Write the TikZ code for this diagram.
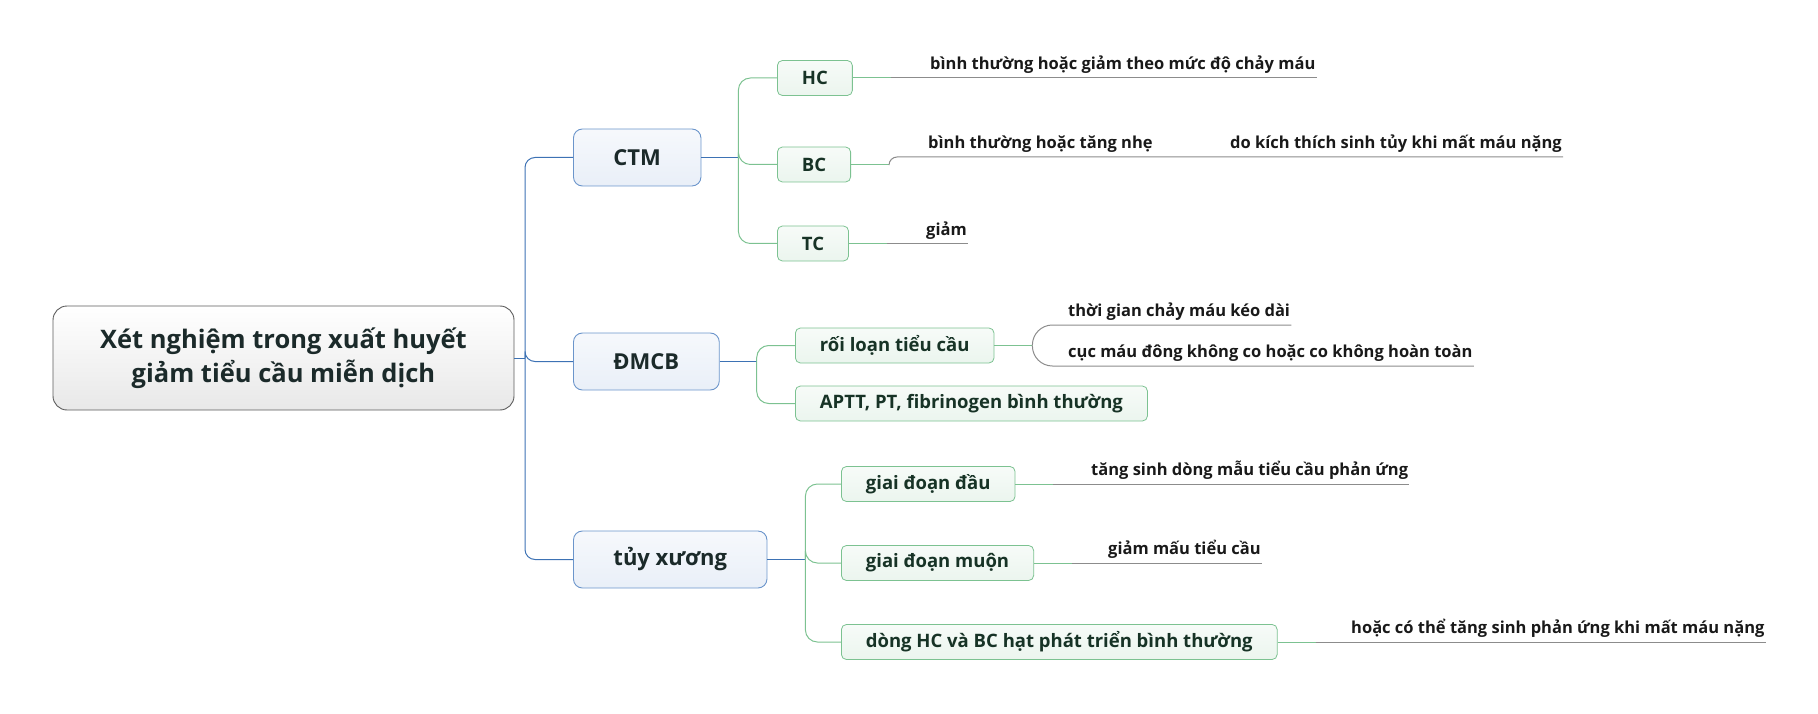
\documentclass[tikz,border=0pt]{standalone}
\usepackage{fontspec}
\setmainfont{Open Sans}
\usepackage{tikz}
\usetikzlibrary{positioning,calc}
\definecolor{bline}{HTML}{3D72B4}
\definecolor{bfill}{HTML}{E9EFF8}
\definecolor{bedge}{HTML}{6B95CB}
\definecolor{gline}{HTML}{7CC291}
\definecolor{gfill}{HTML}{EBF5EE}
\definecolor{rootedge}{HTML}{5C5C5C}
\definecolor{uline}{HTML}{8C8C8C}
\definecolor{ink}{HTML}{1B2A2A}
\definecolor{gink}{HTML}{173326}
\tikzset{
  rootbox/.style={draw=rootedge,rounded corners=14pt,line width=0.9pt,top color=white,bottom color=black!9,align=center,font=\fontsize{25.5}{34}\selectfont\bfseries,text=ink,minimum width=461pt,minimum height=104pt},
  mainbox/.style={draw=bedge,rounded corners=9pt,line width=0.9pt,top color=bfill!40,bottom color=bfill,font=\fontsize{22}{25}\selectfont\bfseries,text=ink,minimum height=57pt,inner xsep=40pt,anchor=west},
  kidbox/.style={draw=gline,rounded corners=5pt,line width=0.8pt,top color=gfill!40,bottom color=gfill,font=\fontsize{18.5}{20}\selectfont\bfseries,text=gink,minimum height=35pt,inner xsep=24.5pt,anchor=west},
  leaf/.style={font=\fontsize{16.5}{18}\selectfont\bfseries,text=black!90,inner xsep=1pt,inner ysep=4pt,anchor=south west},
  bconn/.style={draw=bline,line width=1pt,rounded corners=10pt},
  gconn/.style={draw=gline,line width=1pt,rounded corners=12pt},
  uconn/.style={draw=uline,line width=1pt},
}
\begin{document}
\begin{tikzpicture}[x=1pt,y=-1pt]
\useasboundingbox (0,0) rectangle (1818,714);
\node[rootbox] (root) at (283.5,358) {Xét nghiệm trong xuất huyết\\giảm tiểu cầu miễn dịch};
\node[mainbox] (ctm) at (573,157.5) {CTM};
\node[mainbox] (dmcb) at (573,361.5) {ĐMCB};
\node[mainbox] (tuy) at (573,559.5) {tủy xương};
\node[kidbox] (hc) at (777,78) {HC};
\node[kidbox] (bc) at (777,164.5) {BC};
\node[kidbox] (tc) at (777,243.5) {TC};
\node[kidbox] (roi) at (795,345.5) {rối loạn tiểu cầu};
\node[kidbox] (aptt) at (795,403.5) {APTT, PT, fibrinogen bình thường};
\node[kidbox] (dau) at (841,484) {giai đoạn đầu};
\node[kidbox] (muon) at (841,563) {giai đoạn muộn};
\node[kidbox] (dong) at (841,642) {dòng HC và BC hạt phát triển bình thường};
\node[leaf] (hcl) at (929,78) {bình thường hoặc giảm theo mức độ chảy máu};
\node[leaf] (bcl) at (927,157) {bình thường hoặc tăng nhẹ};
\node[leaf] (bcl2) at (1229,157) {do kích thích sinh tủy khi mất máu nặng};
\node[leaf] (tcl) at (925,243.5) {giảm};
\node[leaf] (roil) at (1067,325) {thời gian chảy máu kéo dài};
\node[leaf] (roil2) at (1067,366) {cục máu đông không co hoặc co không hoàn toàn};
\node[leaf] (daul) at (1090,484) {tăng sinh dòng mẫu tiểu cầu phản ứng};
\node[leaf] (muonl) at (1107,563) {giảm mấu tiểu cầu};
\node[leaf] (dongl) at (1350,642) {hoặc có thể tăng sinh phản ứng khi mất máu nặng};
\coordinate (rootfork) at (525,358);
\draw[bconn] (root.east) -- (rootfork);
\foreach \m in {ctm,dmcb,tuy} \draw[bconn] (rootfork) |- (\m.west);
\coordinate (ctmfork) at ($(ctm.east)+(37,0)$);
\coordinate (dmcbfork) at ($(dmcb.east)+(37,0)$);
\coordinate (tuyfork) at ($(tuy.east)+(38,0)$);
\draw[bconn] (ctm.east) -- (ctmfork);
\draw[bconn] (dmcb.east) -- (dmcbfork);
\draw[bconn] (tuy.east) -- (tuyfork);
\foreach \k in {hc,bc,tc} \draw[gconn] (ctmfork) |- (\k.west);
\foreach \k in {roi,aptt} \draw[gconn] (dmcbfork) |- (\k.west);
\foreach \k in {dau,muon,dong} \draw[gconn] (tuyfork) |- (\k.west);
\foreach \k in {hc,bc,tc,roi,dau,muon,dong} {
  \coordinate (\k f) at ($(\k.east)+(38,0)$);
  \draw[gconn] (\k.east) -- (\k f);
}
\draw[uconn] (hcf) -- (hcl.south east);
\draw[uconn,rounded corners=8pt] (bcf) |- (bcl.south east) -- (bcl2.south east);
\draw[uconn] (tcf) -- (tcl.south east);
\draw[uconn,rounded corners=20pt] (roif) |- (roil.south east);
\draw[uconn,rounded corners=20pt] (roif) |- (roil2.south east);
\draw[uconn] (dauf) -- (daul.south east);
\draw[uconn] (muonf) -- (muonl.south east);
\draw[uconn] (dongf) -- (dongl.south east);
\end{tikzpicture}
\end{document}
